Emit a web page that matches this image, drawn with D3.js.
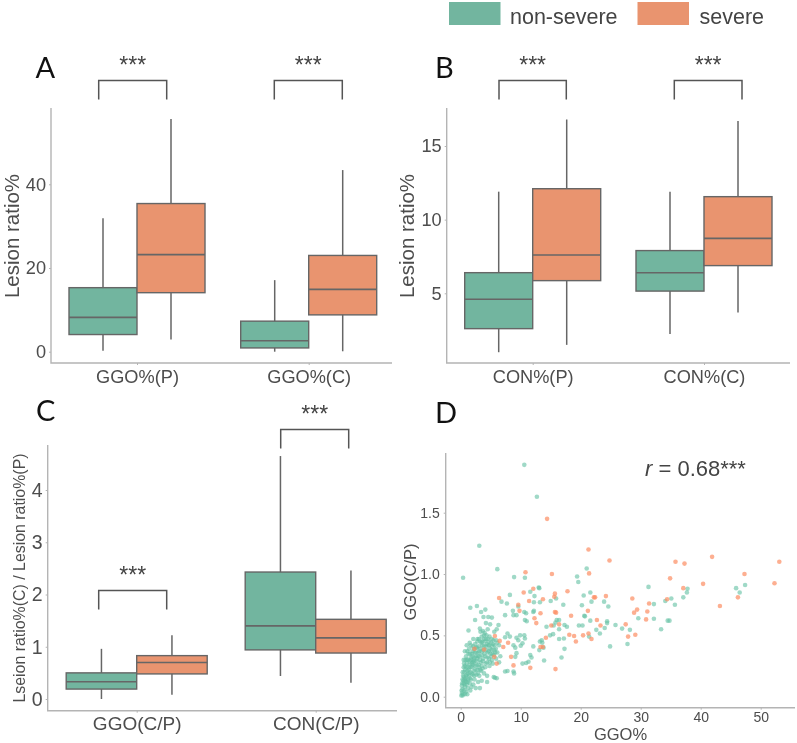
<!DOCTYPE html>
<html>
<head>
<meta charset="utf-8">
<script src="https://cdnjs.cloudflare.com/ajax/libs/d3/7.8.5/d3.min.js"></script>
<style>
	html, body { margin: 0; padding: 0; background: #fff; }
	svg { display: block; filter: blur(0.55px); }
	text { font-family: "Liberation Sans", Arial, sans-serif; }
</style>
</head>
<body>
<svg id="chart" width="797" height="743"></svg>
<script>
// box values are [low whisker, q1, median, q3, high whisker]
var legendLabels = ["non-severe", "severe"];

var catsA = ["GGO%(P)", "GGO%(C)"];
var nonSevereA = [[0.2, 4.1, 8.2, 15.3, 31.9], [0, 0.9, 2.6, 7.3, 17.1]];
var severeA = [[2.9, 14.1, 23.2, 35.4, 55.6], [0.1, 8.8, 14.9, 23, 43.4]];
var ticksA = [0, 20, 40];

var catsB = ["CON%(P)", "CON%(C)"];
var nonSevereB = [[1.0, 2.6, 4.6, 6.4, 11.9], [2.24, 5.15, 6.4, 7.9, 11.9]];
var severeB = [[1.5, 5.86, 7.6, 12.1, 16.8], [3.7, 6.88, 8.73, 11.56, 16.7]];
var ticksB = [5, 10, 15];

var catsC = ["GGO(C/P)", "CON(C/P)"];
var nonSevereC = [[0, 0.19, 0.33, 0.5, 0.96], [0.44, 0.94, 1.4, 2.43, 4.65]];
var severeC = [[0.08, 0.48, 0.7, 0.83, 1.22], [0.31, 0.88, 1.17, 1.525, 2.46]];
var ticksC = [0, 1, 2, 3, 4];

var ticksDx = [0, 10, 20, 30, 40, 50];
var ticksDy = [0, 0.5, 1, 1.5];

// scatter points, [GGO%, GGO(C/P)]
var scatterNonSevere = [
	[10.6,1.89],[12.7,1.63],[3.1,1.23],[6.1,1.04],[0.4,0.97],[8.9,0.975],[10.7,0.97],[21,1.045],[19.4,0.98],[19.6,0.935],
	[13,0.89],[13.1,0.885],[31.3,0.895],[45.9,0.885],[46.5,0.85],[47.4,0.91],[37.8,0.88],[37.7,0.85],[37.1,0.81],[35.1,0.8],
	[34.1,0.78],[35.7,0.75],[32.2,0.755],[20.5,0.825],[21.6,0.85],[21.8,0.775],[23.9,0.775],[24.6,0.735],[20.2,0.745],[32.2,0.635],
	[29.6,0.64],[34.5,0.62],[34.8,0.62],[33.4,0.55],[25.8,0.585],[26.9,0.555],[24.4,0.615],[24.4,0.6],[28.2,0.545],[27.8,0.43],
	[24.9,0.41],[20.6,0.66],[20.7,0.655],[21.6,0.62],[19.7,0.58],[20.3,0.58],[22.6,0.545],[23.2,0.515],[24,0.56],[21.4,0.49],
	[17.1,0.75],[15,0.78],[6.8,0.775],[7.7,0.76],[8.2,0.83],[7.4,0.665],[8.8,0.665],[9.3,0.665],[8.7,0.7],[9.6,0.735],
	[10.6,0.69],[10.7,0.625],[11,0.615],[12.1,0.69],[12.2,0.7],[12.2,0.77],[11.6,0.855],[12.3,0.82],[13.2,0.77],[15.9,0.8],
	[16,0.625],[16.4,0.625],[15.8,0.605],[15.5,0.58],[16.4,0.55],[14.9,0.5],[15.4,0.51],[14.3,0.57],[17.2,0.475],[16.4,0.47],
	[17.3,0.585],[17.7,0.57],[17.3,0.39],[16.8,0.32],[13.9,0.295],[13.5,0.46],[13.2,0.45],[13.6,0.44],[13.1,0.38],[13.8,0.4],
	[12.1,0.41],[10.7,0.475],[10.6,0.5],[9.9,0.5],[9.3,0.48],[9.6,0.46],[10.3,0.435],[10,0.415],[8.8,0.42],[9.1,0.4],
	[8.2,0.49],[7.8,0.515],[7.4,0.485],[6.4,0.42],[9.3,0.355],[9.1,0.325],[11.6,0.34],[11.8,0.32],[11.3,0.285],[10.3,0.27],
	[10.9,0.275],[8.8,0.205],[8.9,0.19],[7.4,0.205],[7.8,0.21],[6,0.15],[5.7,0.155],[4.4,0.12],[3.2,0.07],[10.9,0.68],
	[1.6,0.725],[2.7,0.74],[4.1,0.71],[3.4,0.69],[1.3,0.54],[2.4,0.625],[3.8,0.65],[4.6,0.65],[5.2,0.645],[4.2,0.6],
	[4.9,0.59],[6.3,0.585],[6,0.55],[5.6,0.53],[3.2,0.555],[4,0.52],[3.7,0.535],[3.5,0.49],[4.3,0.5],[4.8,0.49],
	[5.2,0.47],[5.9,0.46],[6.1,0.44],[5.4,0.43],[4.7,0.45],[3.9,0.47],[3.3,0.45],[2.8,0.47],[2.1,0.47],[1.7,0.42],
	[1,0.42],[1.4,0.39],[2.4,0.43],[3,0.41],[3.6,0.42],[4.2,0.41],[4.9,0.39],[5.6,0.38],[6.1,0.36],[5.3,0.35],
	[4.5,0.36],[3.8,0.38],[3.1,0.37],[2.6,0.36],[2,0.37],[1.3,0.35],[0.9,0.33],[0.5,0.3],[1.7,0.32],[2.3,0.32],
	[2.9,0.33],[3.5,0.34],[4.1,0.33],[4.7,0.31],[5.2,0.3],[5.9,0.31],[6.4,0.28],[4.4,0.28],[3.7,0.29],[3.2,0.3],
	[2.6,0.29],[2,0.28],[1.5,0.29],[1,0.27],[0.7,0.25],[1.3,0.24],[1.9,0.24],[2.4,0.25],[3,0.26],[3.5,0.25],
	[4.1,0.24],[4.8,0.25],[3.4,0.21],[2.8,0.22],[2.2,0.21],[1.6,0.2],[1.1,0.21],[0.6,0.2],[0.4,0.17],[0.9,0.17],
	[1.4,0.17],[2,0.18],[2.6,0.18],[3.1,0.17],[3.9,0.19],[4.4,0.17],[5.5,0.16],[2.3,0.14],[1.7,0.14],[1.2,0.14],
	[0.8,0.13],[0.3,0.14],[0.5,0.11],[1,0.1],[1.5,0.11],[2.1,0.1],[2.9,0.12],[3.5,0.13],[0.2,0.09],[0.7,0.08],
	[1.2,0.07],[1.8,0.08],[0.3,0.06],[0.6,0.05],[0.9,0.04],[0.2,0.03],[0.4,0.02],[0.1,0.01],[0.3,0.01],[0.7,0.02],
	[1.1,0.02],[1.6,0.05],[2.5,0.07],[0.15,0.05],[0.5,0.24],[0.8,0.3],[1.9,0.35],[2.7,0.4],[3.3,0.53],[4.5,0.55],
	// the dense corner near the origin
	[0.35,0.2],[0.45,0.13],[0.55,0.16],[0.65,0.1],[0.75,0.22],[0.85,0.15],[0.95,0.24],[1.05,0.18],[1.15,0.12],[1.25,0.3],
	[1.35,0.22],[1.45,0.26],[1.55,0.15],[1.65,0.24],[1.75,0.3],[1.85,0.19],[1.95,0.33],[2.05,0.26],[2.15,0.3],[2.25,0.17],
	[2.35,0.36],[2.45,0.22],[2.55,0.33],[2.65,0.26],[2.75,0.31],[2.85,0.19],[2.95,0.36],[3.05,0.24],[3.15,0.33],[3.25,0.39],
	[3.35,0.28],[3.45,0.44],[3.55,0.37],[3.65,0.23],[3.75,0.31],[3.85,0.41],[3.95,0.35],[4.05,0.45],[4.15,0.27],[4.25,0.38],
	[4.35,0.43],[4.45,0.32],[4.55,0.47],[4.65,0.37],[4.75,0.42],[4.85,0.28],[4.95,0.35],[5.05,0.44],[5.15,0.38],[5.25,0.41],
	[5.35,0.27],[5.45,0.46],[5.55,0.34],[5.65,0.42],[5.75,0.36],[5.85,0.39],[0.25,0.11],[0.55,0.27],[0.65,0.14],[0.95,0.12],
	[1.05,0.3],[1.25,0.19],[1.55,0.35],[1.85,0.27],[2.05,0.41],[2.25,0.29],[2.55,0.4],[2.75,0.45],[3.05,0.47],[3.25,0.22],
	[3.6,0.45],[3.9,0.5],[4.2,0.47],[4.6,0.42],[5.1,0.33],[1.1,0.37],[0.7,0.37],[1.5,0.44],[2.2,0.39],[6.6,0.33]
];
var scatterSevere = [
	[14.4,1.45],[21.3,1.2],[24.8,1.11],[35.8,1.1],[37.3,1.085],[41.9,1.14],[53.1,1.1],[47.3,1],[52.3,0.925],[40.4,0.92],
	[34.9,0.965],[37.1,0.885],[43.2,0.74],[46.2,0.81],[34.4,0.795],[31.4,0.76],[28.6,0.8],[29.4,0.71],[28.9,0.685],[31.1,0.695],
	[30.9,0.63],[27.5,0.59],[27.9,0.49],[29.1,0.505],[10.8,1.015],[15.2,1],[21.4,1.005],[10.5,0.85],[12.1,0.88],[11.4,0.78],
	[13.7,0.795],[15.7,0.84],[15.6,0.815],[17.8,0.86],[22.2,0.81],[22.4,0.81],[24.2,0.82],[6.4,0.805],[9.6,0.75],[9.8,0.7],
	[12.3,0.64],[12.6,0.6],[13.3,0.68],[15.7,0.69],[15.9,0.685],[21.2,0.7],[22.7,0.625],[23.3,0.58],[18.4,0.66],[15.1,0.58],
	[16.4,0.59],[18.1,0.505],[18.9,0.495],[19.2,0.45],[20.4,0.5],[21.3,0.515],[21.8,0.47],[14.2,0.48],[13.3,0.405],[13.7,0.405],
	[15.8,0.225],[11.6,0.235],[8.8,0.255],[6,0.27],[8.4,0.325],[7.1,0.405],[6.5,0.455],[5.7,0.495],[7.9,0.44],[5.6,0.325],
	[2.3,0.39],[3.9,0.385]
];

var green = "#72B59F";
var orange = "#E9946F";
var boxStroke = "#666666";
var axisColor = "#B4B4B4";
var tickColor = "#4D4D4D";

var svg = d3.select("#chart");

function label(txt, x, y, size, color, anchor) {
	return svg.append("text").attr("x", x).attr("y", y).attr("font-size", size)
		.attr("fill", color).attr("text-anchor", anchor || "start").text(txt);
}

function yTitle(txt, x, y, size) {
	svg.append("text").attr("transform", "translate(" + x + "," + y + ") rotate(-90)")
		.attr("text-anchor", "middle").attr("font-size", size).attr("fill", tickColor).text(txt);
}

function panelLetter(txt, x, y) {
	label(txt, x, y, 29, "#111").style("font-family", "Lato");
}

function drawAxes(p, xAxis, yAxis) {
	var gx = svg.append("g").attr("transform", "translate(0," + p.bottom + ")").call(xAxis);
	var gy = svg.append("g").attr("transform", "translate(" + p.left + ",0)").call(yAxis);
	gx.select(".domain").remove();
	gy.select(".domain").remove();
	svg.append("path").attr("fill", "none").attr("stroke", axisColor).attr("stroke-width", 1.4)
		.attr("d", "M" + p.left + "," + p.top + "V" + p.bottom + "H" + p.right);
	[gx, gy].forEach(function (g) {
		g.selectAll("line").attr("stroke", axisColor).attr("stroke-width", 1);
		g.selectAll("text").attr("fill", tickColor).attr("font-family", null);
	});
	return [gx, gy];
}

function boxPanel(p) {
	var x = d3.scalePoint().domain(p.cats).range(p.xRange);
	var y = d3.scaleLinear().domain(p.yDomain).range(p.yRange);

	var axes = drawAxes(p,
		d3.axisBottom(x).tickSize(2).tickPadding(p.xPad),
		d3.axisLeft(y).tickValues(p.ticks).tickSize(2).tickPadding(3).tickFormat(d3.format("d")));
	axes[0].selectAll("text").attr("font-size", p.xFont);
	axes[1].selectAll("text").attr("font-size", p.yFont);

	[{vals: p.nonSevere, fill: green, side: -1}, {vals: p.severe, fill: orange, side: 0}].forEach(function (s) {
		var g = svg.append("g").selectAll("g").data(s.vals).join("g");
		var left = function (d, i) { return x(p.cats[i]) + s.side * p.boxW; };
		var mid = function (d, i) { return left(d, i) + p.boxW / 2; };

		g.append("line").attr("x1", mid).attr("x2", mid)
			.attr("y1", function (d) { return y(d[0]); }).attr("y2", function (d) { return y(d[4]); })
			.attr("stroke", boxStroke).attr("stroke-width", 1.5);
		g.append("rect").attr("x", left).attr("width", p.boxW)
			.attr("y", function (d) { return y(d[3]); })
			.attr("height", function (d) { return y(d[1]) - y(d[3]); })
			.attr("fill", s.fill).attr("stroke", boxStroke).attr("stroke-width", 1.4);
		g.append("line").attr("x1", left).attr("x2", function (d, i) { return left(d, i) + p.boxW; })
			.attr("y1", function (d) { return y(d[2]); }).attr("y2", function (d) { return y(d[2]); })
			.attr("stroke", boxStroke).attr("stroke-width", 1.6);
	});

	p.brackets.forEach(function (b) {
		svg.append("path").attr("fill", "none").attr("stroke", "#555").attr("stroke-width", 1.5)
			.attr("d", "M" + b.x0 + "," + (b.y + 19) + "V" + b.y + "H" + b.x1 + "V" + (b.y + 19));
		label("***", (b.x0 + b.x1) / 2, b.y - 8, 23, "#444", "middle");
	});

	yTitle(p.title, p.titleX, p.titleY, p.titleFont);
	panelLetter(p.letter, p.letterX, p.letterY);
}

boxPanel({
	cats: catsA, nonSevere: nonSevereA, severe: severeA, ticks: ticksA,
	left: 51, right: 392, top: 108, bottom: 363,
	xRange: [137, 308.7], yDomain: [0, 40], yRange: [351.7, 184.3], boxW: 68,
	xFont: 18.2, yFont: 18.2, xPad: 5,
	brackets: [{x0: 98.7, x1: 166.7, y: 80.5}, {x0: 274.3, x1: 342.3, y: 80.5}],
	title: "Lesion ratio%", titleX: 18.6, titleY: 236, titleFont: 20.5,
	letter: "A", letterX: 35.5, letterY: 78
});

boxPanel({
	cats: catsB, nonSevere: nonSevereB, severe: severeB, ticks: ticksB,
	left: 446.7, right: 790, top: 108, bottom: 363,
	xRange: [532.7, 704], yDomain: [5, 15], yRange: [293.3, 146], boxW: 68,
	xFont: 18.2, yFont: 18.2, xPad: 5,
	brackets: [{x0: 499, x1: 566.3, y: 80.5}, {x0: 674.3, x1: 742, y: 80.5}],
	title: "Lesion ratio%", titleX: 414, titleY: 236, titleFont: 20.5,
	letter: "B", letterX: 435, letterY: 78
});

boxPanel({
	cats: catsC, nonSevere: nonSevereC, severe: severeC, ticks: ticksC,
	left: 47.7, right: 397, top: 445, bottom: 710.7,
	xRange: [136.7, 315.7], yDomain: [0, 4], yRange: [699, 490], boxW: 70.5,
	xFont: 19, yFont: 19.5, xPad: 4,
	brackets: [{x0: 98.7, x1: 166.7, y: 590.5}, {x0: 280.7, x1: 348.7, y: 429.5}],
	title: "Lseion ratio%(C) / Lesion ratio%(P)", titleX: 25, titleY: 578, titleFont: 15.9,
	letter: "C", letterX: 36, letterY: 421
});

// panel D, scatter
var pD = {left: 445.7, right: 795, top: 453, bottom: 707.7};
var xD = d3.scaleLinear().domain([0, 50]).range([460.7, 760.7]);
var yD = d3.scaleLinear().domain([0, 1.5]).range([696.7, 512.7]);

var axesD = drawAxes(pD,
	d3.axisBottom(xD).tickValues(ticksDx).tickSize(2).tickPadding(2),
	d3.axisLeft(yD).tickValues(ticksDy).tickSize(2).tickPadding(4).tickFormat(d3.format(".1f")));
axesD[0].selectAll("text").attr("font-size", 14);
axesD[1].selectAll("text").attr("font-size", 14);

svg.append("g").selectAll("circle").data(scatterNonSevere).join("circle")
	.attr("cx", function (d) { return xD(d[0]); }).attr("cy", function (d) { return yD(d[1]); })
	.attr("r", 2.3).attr("fill", "#66C2A5").attr("fill-opacity", 0.62);
svg.append("g").selectAll("circle").data(scatterSevere).join("circle")
	.attr("cx", function (d) { return xD(d[0]); }).attr("cy", function (d) { return yD(d[1]); })
	.attr("r", 2.3).attr("fill", "#FC8D62").attr("fill-opacity", 0.7);

label("GGO%", 620.5, 740, 16.5, tickColor, "middle");
yTitle("GGO(C/P)", 416, 582, 16.5);
panelLetter("D", 435, 423);

var rText = label("", 645, 476, 22, "#444");
rText.append("tspan").attr("font-style", "italic").text("r");
rText.append("tspan").text(" = 0.68***");

// legend
svg.selectAll("rect.key").data(legendLabels).join("rect").attr("class", "key")
	.attr("x", function (d, i) { return i ? 637.5 : 449; }).attr("y", 2).attr("width", 51.5).attr("height", 23)
	.attr("fill", function (d, i) { return i ? orange : green; });
svg.selectAll("text.key").data(legendLabels).join("text").attr("class", "key")
	.attr("x", function (d, i) { return i ? 699.5 : 510; }).attr("y", 24)
	.attr("font-size", 21.5).attr("fill", "#444").text(function (d) { return d; });
</script>
</body>
</html>
